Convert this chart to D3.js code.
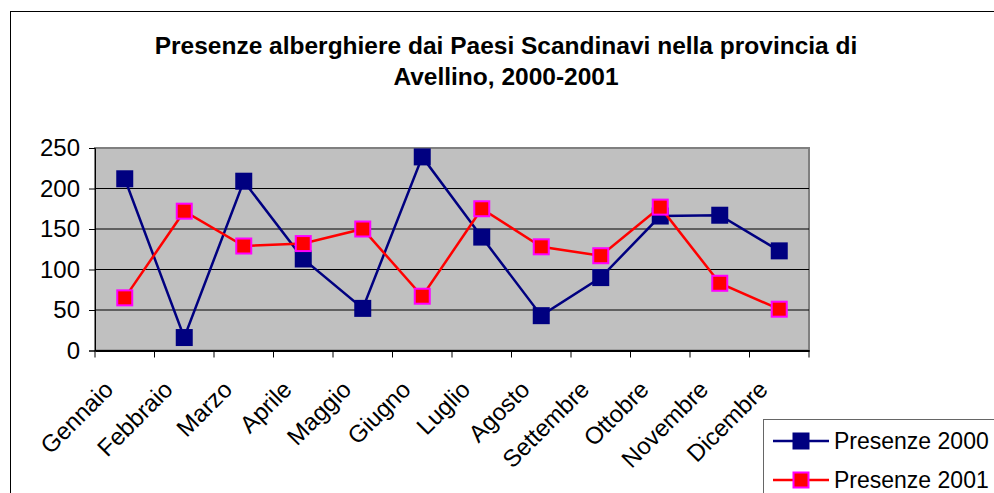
<!DOCTYPE html>
<html lang="it">
<head>
<meta charset="UTF-8">
<title>Presenze alberghiere dai Paesi Scandinavi</title>
<script src="https://cdnjs.cloudflare.com/ajax/libs/d3/7.9.0/d3.min.js"></script>
<style>
  body{margin:0;background:#fff;}
  svg{display:block;font-family:"Liberation Sans",Arial,sans-serif;}
</style>
</head>
<body>
<div id="chart"></div>
<script>
/* ---------- Data ---------- */
const months = ["Gennaio","Febbraio","Marzo","Aprile","Maggio","Giugno",
                "Luglio","Agosto","Settembre","Ottobre","Novembre","Dicembre"];
const presenze2000 = [212,16,209,113,52,239,140,43,90,166,167,123];
const presenze2001 = [65,172,129,132,150,67,175,128,117,177,83,51];
const yTicks = [0,50,100,150,200,250];
const titleLines = ["Presenze alberghiere dai Paesi Scandinavi nella provincia di",
                    "Avellino, 2000-2001"];
const seriesNames = ["Presenze 2000","Presenze 2001"];

const W = 994, H = 493;
const plot = {left:95, top:148, right:809, bottom:350.5};

const svg = d3.select("#chart").append("svg")
    .attr("width",W).attr("height",H);

// outer chart frame
svg.append("rect")
    .attr("x",10.5).attr("y",11.5).attr("width",W).attr("height",H)
    .attr("fill","none").attr("stroke","#000").attr("stroke-width",1);

// title
svg.append("g").selectAll("text")
  .data(titleLines).enter().append("text")
    .attr("x",506).attr("y",(d,i)=>54+i*31)
    .attr("text-anchor","middle")
    .attr("font-size",24.5).attr("font-weight","bold")
    .text(d=>d);

/* ---------- Scales ---------- */
const x = d3.scaleBand().domain(months).range([plot.left,plot.right]).padding(0);
const y = d3.scaleLinear().domain([0,250]).range([plot.bottom,plot.top]);
const cx = d => x(d) + x.bandwidth()/2;

// plot area
svg.append("rect")
    .attr("x",plot.left).attr("y",plot.top)
    .attr("width",plot.right-plot.left).attr("height",plot.bottom-plot.top)
    .attr("fill","#c0c0c0").attr("stroke","#808080").attr("stroke-width",2);

// gridlines
svg.append("g").selectAll("line")
  .data(yTicks.filter(t=>t>0 && t<250)).enter().append("line")
    .attr("x1",plot.left).attr("x2",plot.right)
    .attr("y1",d=>y(d)).attr("y2",d=>y(d))
    .attr("stroke","#000").attr("stroke-width",1);

// y axis
const yAxis = svg.append("g")
    .attr("transform",`translate(${plot.left},0)`)
    .call(d3.axisLeft(y).tickValues(yTicks).tickSize(6).tickPadding(9));
yAxis.selectAll("text").attr("font-size",24).attr("fill","#000")
    .attr("font-family","Liberation Sans, Arial, sans-serif");
yAxis.selectAll("line,path").attr("stroke","#000");

// x axis
const xAxis = svg.append("g")
    .attr("transform",`translate(0,${plot.bottom})`)
    .call(d3.axisBottom(x).tickSize(0).tickFormat(""));
xAxis.select(".domain").attr("stroke","#000").attr("stroke-width",2);
svg.append("g").selectAll("line")
  .data(d3.range(months.length+1)).enter().append("line")
    .attr("x1",i=>plot.left+i*x.step()).attr("x2",i=>plot.left+i*x.step())
    .attr("y1",plot.bottom).attr("y2",plot.bottom+7)
    .attr("stroke","#000");

svg.append("g").selectAll("text")
  .data(months).enter().append("text")
    .attr("transform",d=>`translate(${cx(d)-10},391) rotate(-45)`)
    .attr("text-anchor","end")
    .attr("font-size",24)
    .text(d=>d);

/* ---------- Series ---------- */
const series = [
  {name:seriesNames[0], values:presenze2000, line:"#000080", fill:"#000080", edge:"#000080"},
  {name:seriesNames[1], values:presenze2001, line:"#ff0000", fill:"#ff0000", edge:"#ff00ff"}
];
const line = d3.line().x((d,i)=>cx(months[i])).y(d=>y(d));

series.forEach(s=>{
  svg.append("path").datum(s.values)
    .attr("d",line).attr("fill","none")
    .attr("stroke",s.line).attr("stroke-width",2.5);
  svg.append("g").selectAll("rect")
    .data(s.values).enter().append("rect")
      .attr("x",(d,i)=>cx(months[i])-7.5).attr("y",d=>y(d)-7.5)
      .attr("width",15).attr("height",15)
      .attr("fill",s.fill).attr("stroke",s.edge).attr("stroke-width",2);
});

/* ---------- Legend ---------- */
const lg = svg.append("g").attr("transform","translate(763,419)");
lg.append("rect").attr("x",0.5).attr("y",0.5).attr("width",300).attr("height",120)
  .attr("fill","#fff").attr("stroke","#666");
series.forEach((s,i)=>{
  const ly = 22 + i*39;
  lg.append("line").attr("x1",10).attr("x2",66).attr("y1",ly).attr("y2",ly)
    .attr("stroke",s.line).attr("stroke-width",2.5);
  lg.append("rect").attr("x",30.5).attr("y",ly-7.5).attr("width",15).attr("height",15)
    .attr("fill",s.fill).attr("stroke",s.edge).attr("stroke-width",2);
  lg.append("text").attr("x",71).attr("y",ly+8).attr("font-size",23).text(s.name);
});
</script>
</body>
</html>
